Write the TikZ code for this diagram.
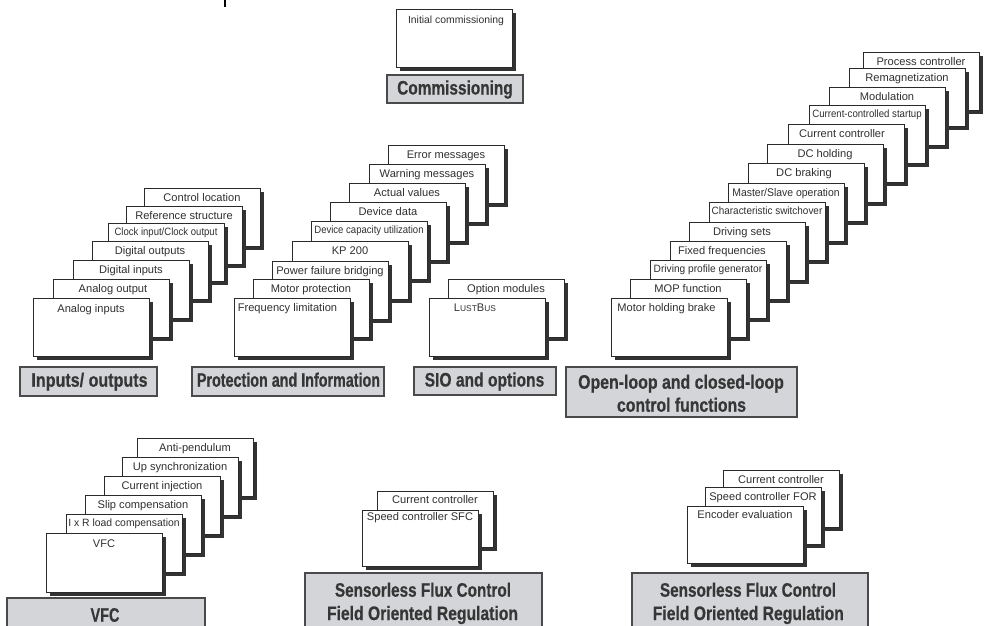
\documentclass[tikz,border=0pt]{standalone}
\usepackage{fontspec}
\setmainfont{Liberation Sans}
\newfontfamily\lblfont{Liberation Sans}[UprightFont={* Bold}, FakeBold=0.6]
\usepackage{graphicx}
\usetikzlibrary{shadows,calc}
\definecolor{shadowc}{HTML}{333333}
\definecolor{cardline}{HTML}{2A2A2A}
\definecolor{txtc}{HTML}{303030}
\definecolor{lblfill}{HTML}{D3D5D8}
\definecolor{lblline}{HTML}{4A4A4A}
\definecolor{lbltxt}{HTML}{363636}
\newcommand\hsq[2]{\scalebox{#1}[1]{#2}}
\newcommand\crd[6]{%
  \node[card, minimum height=#4pt, anchor=north west] (#1) at (#2,#3) {};
  \node[cardtxt, #5] (#1-t) at ([yshift=-13.8pt]#1.north) {#6};
}
\begin{document}
\begin{tikzpicture}[x=1pt,y=-1pt,
  card/.style={draw=cardline, line width=0.8pt, fill=white, minimum width=116pt,
    inner sep=0pt, outer sep=0pt,
    drop shadow={shadow xshift=4pt, shadow yshift=-4pt, fill=shadowc, opacity=1}},
  cardtxt/.style={anchor=base, inner sep=0pt, text=txtc, font=\fontsize{11.1}{13}\selectfont},
  smalltxt/.style={font=\fontsize{10.6}{12}\selectfont, yshift=1pt},
  lblbox/.style={draw=lblline, line width=1.3pt, fill=lblfill, inner sep=0pt, outer sep=0pt, anchor=north west},
  lbltext/.style={anchor=base, inner sep=0pt, text=lbltxt, font=\lblfont\fontsize{19.5}{22}\selectfont},
]
\useasboundingbox (0,0) rectangle (986,625);
\clip (0,0) rectangle (986,625);
\fill[white] (0,0) rectangle (986,625);

% stray tick at top
\coordinate (tickA) at (225,0);
\coordinate (tickB) at (225,6.5);
\draw[line width=1.3pt, black] (tickA) -- (tickB);

% Commissioning
\crd{c1}{396}{9}{58}{yshift=-1pt, xshift=2pt, font=\fontsize{10.4}{12}\selectfont}{Initial commissioning}
\node[lblbox, minimum width=136pt, minimum height=28pt] (Lcomm) at (387,75) {};
\node[lbltext] (Lcomm-t) at (455,94.5) {\hsq{0.79}{Commissioning}};

% Inputs / outputs
\crd{io7}{144}{188}{58}{}{Control location}
\crd{io6}{126}{206}{58}{}{Reference structure}
\crd{io5}{108}{223}{58}{smalltxt}{\hsq{0.9}{Clock input/Clock output}}
\crd{io4}{92}{241}{58}{}{Digital outputs}
\crd{io3}{73}{260}{58}{}{Digital inputs}
\crd{io2}{53}{279}{58}{xshift=2pt}{Analog output}
\crd{io1}{33}{298}{58}{yshift=-0.8pt}{Analog inputs}
\node[lblbox, minimum width=137pt, minimum height=29pt] (Lio) at (20,367) {};
\node[lbltext] (Lio-t) at (89.5,386.7) {\hsq{0.825}{Inputs/ outputs}};

% Protection and Information
\crd{pr9}{388}{145}{58}{}{Error messages}
\crd{pr8}{369}{164}{58}{}{Warning messages}
\crd{pr7}{349}{183}{58}{}{Actual values}
\crd{pr6}{330}{202}{58}{}{Device data}
\crd{pr5}{311}{221}{58}{smalltxt}{\hsq{0.9}{Device capacity utilization}}
\crd{pr4}{292}{241}{58}{}{KP 200}
\crd{pr3}{272}{261}{58}{}{Power failure bridging}
\crd{pr2}{253}{279}{58}{}{Motor protection}
\crd{pr1}{234}{298}{58}{xshift=-4.5pt}{Frequency limitation}
\node[lblbox, minimum width=192pt, minimum height=29pt] (Lpr) at (192,367) {};
\node[lbltext] (Lpr-t) at (288.5,386.7) {\hsq{0.735}{Protection and Information}};

% SIO and options
\crd{s2}{448}{279}{58}{}{Option modules}
\crd{s1}{429}{298}{58}{xshift=-12pt}{L{\fontsize{8.4}{10}\selectfont UST}B{\fontsize{8.4}{10}\selectfont US}}
\node[lblbox, minimum width=142pt, minimum height=28pt] (Lsio) at (414,367) {};
\node[lbltext] (Lsio-t) at (484.5,386.5) {\hsq{0.8}{SIO and options}};

% Open-loop and closed-loop control functions
\crd{ol14}{863}{52}{58}{}{Process controller}
\crd{ol13}{849}{68}{58}{}{Remagnetization}
\crd{ol12}{829}{87}{58}{}{Modulation}
\crd{ol11}{809}{105}{58}{smalltxt}{\hsq{0.91}{Current-controlled startup}}
\crd{ol10}{788}{124}{58}{xshift=-4pt}{Current controller}
\crd{ol9}{767}{144}{58}{}{DC holding}
\crd{ol8}{748}{163}{58}{xshift=-2pt}{DC braking}
\crd{ol7}{728}{183}{58}{}{\hsq{0.94}{Master/Slave operation}}
\crd{ol6}{709}{202}{58}{smalltxt}{\hsq{0.94}{Characteristic switchover}}
\crd{ol5}{689}{222}{58}{xshift=-5pt}{Driving sets}
\crd{ol4}{670}{241}{58}{xshift=-6pt}{Fixed frequencies}
\crd{ol3}{650}{260}{58}{smalltxt}{\hsq{0.96}{Driving profile generator}}
\crd{ol2}{630}{279}{58}{}{MOP function}
\crd{ol1}{611}{298}{58}{xshift=-2.5pt}{Motor holding brake}
\node[lblbox, minimum width=231pt, minimum height=50pt] (Lol) at (566,367) {};
\node[lbltext] (Lol-t1) at (681,388.7) {\hsq{0.815}{Open-loop and closed-loop}};
\node[lbltext] (Lol-t2) at (681.5,411.7) {\hsq{0.81}{control functions}};

% VFC
\crd{v6}{137}{438}{58}{}{Anti-pendulum}
\crd{v5}{122}{457}{58}{}{Up synchronization}
\crd{v4}{104}{476}{58}{}{Current injection}
\crd{v3}{85}{495}{58}{}{Slip compensation}
\crd{v2}{66}{514}{58}{smalltxt}{\hsq{0.98}{I x R load compensation}}
\crd{v1}{46}{533}{59}{yshift=-0.5pt}{VFC}
\node[lblbox, minimum width=198pt, minimum height=40pt] (Lvfc) at (7,598) {};
\node[lbltext] (Lvfc-t) at (105,621.7) {\hsq{0.74}{VFC}};

% Sensorless flux control (SFC)
\crd{sf2}{377}{491}{56}{yshift=1pt}{Current controller}
\crd{sf1}{362}{510}{56}{yshift=3.5pt}{Speed controller SFC}
\node[lblbox, minimum width=237pt, minimum height=60pt] (Lsfc) at (305,573) {};
\node[lbltext] (Lsfc-t1) at (423,596.7) {\hsq{0.785}{Sensorless Flux Control}};
\node[lbltext] (Lsfc-t2) at (422.5,620) {\hsq{0.805}{Field Oriented Regulation}};

% Field oriented regulation (FOR)
\crd{fo3}{723}{470}{57}{}{Current controller}
\crd{fo2}{705}{487}{57}{}{Speed controller FOR}
\crd{fo1}{687}{506}{57}{yshift=1.5pt}{Encoder evaluation}
\node[lblbox, minimum width=236pt, minimum height=60pt] (Lfor) at (632,573) {};
\node[lbltext] (Lfor-t1) at (748,596.7) {\hsq{0.785}{Sensorless Flux Control}};
\node[lbltext] (Lfor-t2) at (748.3,620) {\hsq{0.805}{Field Oriented Regulation}};
\end{tikzpicture}
\end{document}
